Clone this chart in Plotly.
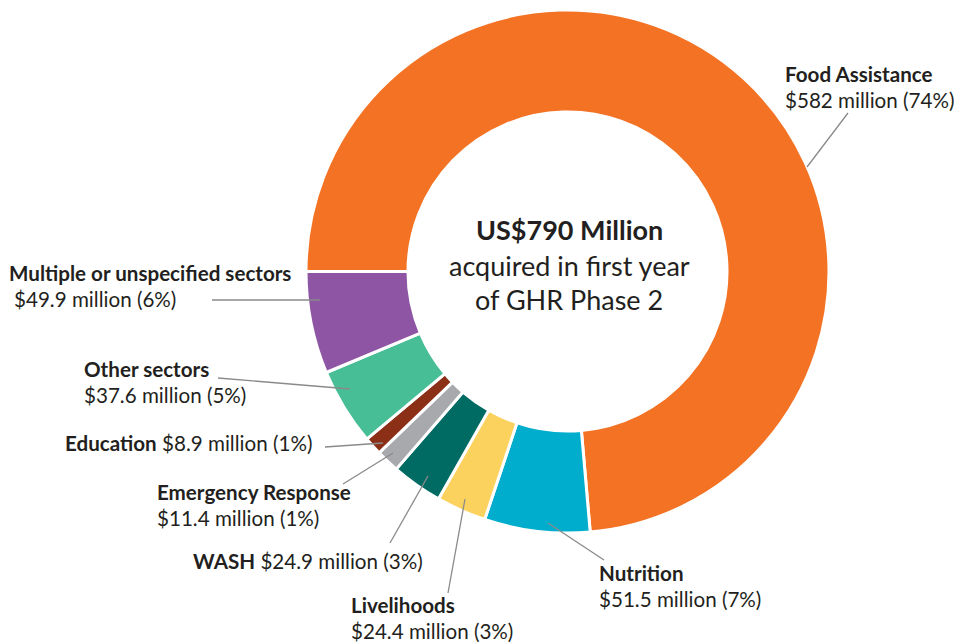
import plotly.graph_objects as go

# ---- data ----
sectors = ["Food Assistance", "Nutrition", "Livelihoods", "WASH",
           "Emergency Response", "Education", "Other sectors",
           "Multiple or unspecified sectors"]
values_musd = [582, 51.5, 24.4, 24.9, 11.4, 8.9, 37.6, 49.9]
percents = [74, 7, 3, 3, 1, 1, 5, 6]
colors = ["#F37224", "#00ADCC", "#FCD25F", "#006B63",
          "#A7A9AC", "#8B2F16", "#48BE96", "#8D55A3"]
center_title = "US$790 Million"
center_sub = ["acquired in first year", "of GHR Phase 2"]

W, H = 954, 643
FONT = "Lato"
TXT = "#231F20"
LBL = 20.6


def px(x, y):
    return x / W, 1 - y / H


cx, cy, r = 567.5, 271.5, 261.5
fig = go.Figure(go.Pie(
    labels=sectors, values=values_musd, sort=False, direction="clockwise",
    rotation=270, hole=0.61, textinfo="none", hoverinfo="label+value",
    marker=dict(colors=colors, line=dict(color="white", width=3)),
    domain=dict(x=[(cx - r) / W, (cx + r) / W],
                y=[1 - (cy + r) / H, 1 - (cy - r) / H]),
    showlegend=False,
))

annotations = []


def add_text(x, y, text, size=LBL, anchor="left"):
    ax, ay = px(x, y)
    annotations.append(dict(x=ax, y=ay, xref="paper", yref="paper",
                            text=text, showarrow=False, xanchor=anchor,
                            yanchor="middle",
                            font=dict(family=FONT, size=size, color=TXT)))


def amount(i):
    return f"${values_musd[i]:g} million ({percents[i]}%)"


# label layout: (index -> x, y of first line)
two_line = {0: (783, 74), 1: (597, 573), 2: (349, 605), 4: (155, 492),
            6: (82, 369), 7: (7, 273)}
for i, (x, y) in two_line.items():
    add_text(x, y, f"<b>{sectors[i]}</b>")
    add_text(x + (5 if i == 7 else 0), y + 26, amount(i))
one_line = {5: (63, 443), 3: (191, 561)}
for i, (x, y) in one_line.items():
    add_text(x, y, f"<b>{sectors[i]}</b> {amount(i)}")

# center text
add_text(569, 229, f"<b>{center_title}</b>", size=27, anchor="center")
add_text(569, 265, center_sub[0], size=27, anchor="center")
add_text(569, 299, center_sub[1], size=27, anchor="center")

# leader lines (pixel endpoints)
leaders = [((848, 113), (807, 167)), ((548, 523), (604, 560)),
           ((465, 499), (448, 593)), ((428, 476), (390, 543)),
           ((393, 453), (343, 484)), ((383, 443), (325, 447)),
           ((350, 389), (218, 378)), ((320, 300), (212, 300))]
shapes = []
for (x0, y0), (x1, y1) in leaders:
    a0, b0 = px(x0, y0)
    a1, b1 = px(x1, y1)
    shapes.append(dict(type="line", xref="paper", yref="paper",
                       x0=a0, y0=b0, x1=a1, y1=b1,
                       line=dict(color="#8A8A8A", width=1.3)))

fig.update_layout(width=W, height=H, margin=dict(l=0, r=0, t=0, b=0),
                  paper_bgcolor="white", plot_bgcolor="white",
                  annotations=annotations, shapes=shapes)
fig.write_html("out.html", config={"displayModeBar": False},
               post_script="document.body.style.margin='0';"
                           "document.body.style.overflow='hidden';")
